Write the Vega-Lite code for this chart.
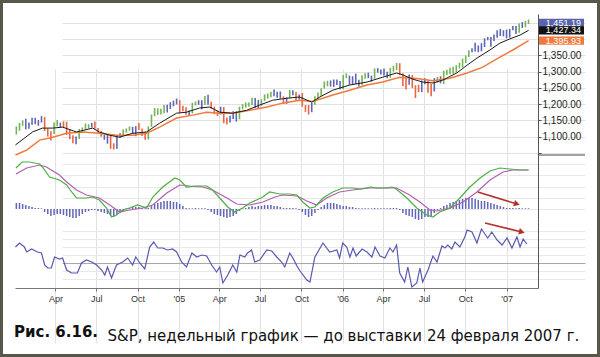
{
"$schema": "https://vega.github.io/schema/vega-lite/v6.json",
"width": 600, "height": 357,
"autosize": {"type": "none"},
"padding": 0,
"background": "white",
"config": {"view": {"stroke": "#58574a", "strokeWidth": 6, "fill": "white"}, "axis": {"labelFont": "Liberation Sans"}},
"title": {"text": "Рис. 6.16.", "orient": "bottom", "anchor": "start", "frame": "group", "offset": -20, "dx": 14, "baseline": "alphabetic", "font": "DejaVu Sans", "fontSize": 15, "fontWeight": "bold", "color": "#111111"},
"datasets": {
"bars": [
{"d":"2004-01-05","lo":1106,"hi":1131,"imp":"g","hist":6},
{"d":"2004-01-12","lo":1118,"hi":1142,"imp":"g","hist":6},
{"d":"2004-01-19","lo":1133,"hi":1150,"imp":"g","hist":5},
{"d":"2004-01-26","lo":1122,"hi":1155,"imp":"b","hist":4},
{"d":"2004-02-02","lo":1124,"hi":1143,"imp":"b","hist":3},
{"d":"2004-02-09","lo":1136,"hi":1158,"imp":"b","hist":2},
{"d":"2004-02-16","lo":1138,"hi":1158,"imp":"b","hist":1},
{"d":"2004-02-23","lo":1133,"hi":1151,"imp":"b","hist":1},
{"d":"2004-03-01","lo":1143,"hi":1163,"imp":"b","hist":0.7},
{"d":"2004-03-08","lo":1117,"hi":1160,"imp":"r","hist":-3},
{"d":"2004-03-15","lo":1100,"hi":1125,"imp":"r","hist":-5},
{"d":"2004-03-22","lo":1088,"hi":1116,"imp":"r","hist":-7},
{"d":"2004-03-29","lo":1108,"hi":1143,"imp":"g","hist":-6},
{"d":"2004-04-05","lo":1132,"hi":1151,"imp":"g","hist":-5},
{"d":"2004-04-12","lo":1128,"hi":1143,"imp":"b","hist":-5},
{"d":"2004-04-19","lo":1126,"hi":1147,"imp":"r","hist":-6},
{"d":"2004-04-26","lo":1105,"hi":1146,"imp":"r","hist":-7},
{"d":"2004-05-03","lo":1092,"hi":1123,"imp":"r","hist":-8},
{"d":"2004-05-10","lo":1079,"hi":1104,"imp":"r","hist":-9},
{"d":"2004-05-17","lo":1076,"hi":1100,"imp":"b","hist":-9},
{"d":"2004-05-24","lo":1092,"hi":1123,"imp":"g","hist":-7},
{"d":"2004-05-31","lo":1113,"hi":1128,"imp":"g","hist":-5},
{"d":"2004-06-07","lo":1122,"hi":1140,"imp":"g","hist":-3},
{"d":"2004-06-14","lo":1125,"hi":1138,"imp":"g","hist":-2},
{"d":"2004-06-21","lo":1128,"hi":1142,"imp":"b","hist":-1},
{"d":"2004-06-28","lo":1124,"hi":1146,"imp":"r","hist":-1},
{"d":"2004-07-05","lo":1111,"hi":1126,"imp":"r","hist":-2},
{"d":"2004-07-12","lo":1099,"hi":1116,"imp":"r","hist":-3},
{"d":"2004-07-19","lo":1090,"hi":1106,"imp":"b","hist":-4},
{"d":"2004-07-26","lo":1078,"hi":1106,"imp":"b","hist":-5},
{"d":"2004-08-02","lo":1062,"hi":1108,"imp":"r","hist":-7},
{"d":"2004-08-09","lo":1060,"hi":1079,"imp":"r","hist":-8},
{"d":"2004-08-16","lo":1062,"hi":1100,"imp":"b","hist":-6},
{"d":"2004-08-23","lo":1096,"hi":1110,"imp":"b","hist":-4},
{"d":"2004-08-30","lo":1104,"hi":1122,"imp":"g","hist":-2},
{"d":"2004-09-06","lo":1112,"hi":1125,"imp":"g","hist":0.7},
{"d":"2004-09-13","lo":1118,"hi":1131,"imp":"g","hist":1},
{"d":"2004-09-20","lo":1108,"hi":1130,"imp":"b","hist":2},
{"d":"2004-09-27","lo":1101,"hi":1132,"imp":"b","hist":2},
{"d":"2004-10-04","lo":1120,"hi":1142,"imp":"r","hist":2},
{"d":"2004-10-11","lo":1102,"hi":1125,"imp":"r","hist":1},
{"d":"2004-10-18","lo":1090,"hi":1115,"imp":"r","hist":0.7},
{"d":"2004-10-25","lo":1091,"hi":1131,"imp":"g","hist":1},
{"d":"2004-11-01","lo":1130,"hi":1168,"imp":"g","hist":3},
{"d":"2004-11-08","lo":1163,"hi":1188,"imp":"g","hist":5},
{"d":"2004-11-15","lo":1167,"hi":1187,"imp":"g","hist":6},
{"d":"2004-11-22","lo":1168,"hi":1186,"imp":"g","hist":7},
{"d":"2004-11-29","lo":1172,"hi":1197,"imp":"g","hist":8},
{"d":"2004-12-06","lo":1174,"hi":1198,"imp":"b","hist":8},
{"d":"2004-12-13","lo":1185,"hi":1206,"imp":"b","hist":8},
{"d":"2004-12-20","lo":1193,"hi":1211,"imp":"b","hist":7},
{"d":"2004-12-27","lo":1199,"hi":1217,"imp":"b","hist":7},
{"d":"2005-01-03","lo":1173,"hi":1212,"imp":"r","hist":5},
{"d":"2005-01-10","lo":1178,"hi":1195,"imp":"r","hist":3},
{"d":"2005-01-17","lo":1167,"hi":1190,"imp":"r","hist":1},
{"d":"2005-01-24","lo":1163,"hi":1180,"imp":"b","hist":0.7},
{"d":"2005-01-31","lo":1171,"hi":1204,"imp":"g","hist":0.7},
{"d":"2005-02-07","lo":1196,"hi":1208,"imp":"g","hist":1},
{"d":"2005-02-14","lo":1198,"hi":1212,"imp":"b","hist":0.7},
{"d":"2005-02-21","lo":1184,"hi":1212,"imp":"b","hist":0.7},
{"d":"2005-02-28","lo":1198,"hi":1225,"imp":"g","hist":0.7},
{"d":"2005-03-07","lo":1198,"hi":1229,"imp":"b","hist":-1},
{"d":"2005-03-14","lo":1186,"hi":1207,"imp":"r","hist":-3},
{"d":"2005-03-21","lo":1169,"hi":1192,"imp":"r","hist":-5},
{"d":"2005-03-28","lo":1163,"hi":1180,"imp":"r","hist":-6},
{"d":"2005-04-04","lo":1168,"hi":1192,"imp":"b","hist":-7},
{"d":"2005-04-11","lo":1141,"hi":1191,"imp":"r","hist":-8},
{"d":"2005-04-18","lo":1137,"hi":1159,"imp":"r","hist":-9},
{"d":"2005-04-25","lo":1143,"hi":1164,"imp":"b","hist":-8},
{"d":"2005-05-02","lo":1154,"hi":1178,"imp":"b","hist":-7},
{"d":"2005-05-09","lo":1146,"hi":1178,"imp":"b","hist":-5},
{"d":"2005-05-16","lo":1153,"hi":1192,"imp":"g","hist":-2},
{"d":"2005-05-23","lo":1184,"hi":1200,"imp":"g","hist":0.7},
{"d":"2005-05-30","lo":1189,"hi":1205,"imp":"g","hist":1},
{"d":"2005-06-06","lo":1192,"hi":1205,"imp":"g","hist":2},
{"d":"2005-06-13","lo":1197,"hi":1220,"imp":"g","hist":3},
{"d":"2005-06-20","lo":1189,"hi":1219,"imp":"b","hist":2},
{"d":"2005-06-27","lo":1188,"hi":1213,"imp":"b","hist":3},
{"d":"2005-07-04","lo":1195,"hi":1215,"imp":"g","hist":3},
{"d":"2005-07-11","lo":1210,"hi":1230,"imp":"g","hist":4},
{"d":"2005-07-18","lo":1217,"hi":1233,"imp":"g","hist":4},
{"d":"2005-07-25","lo":1221,"hi":1238,"imp":"g","hist":4},
{"d":"2005-08-01","lo":1224,"hi":1245,"imp":"b","hist":3},
{"d":"2005-08-08","lo":1220,"hi":1238,"imp":"b","hist":3},
{"d":"2005-08-15","lo":1217,"hi":1239,"imp":"b","hist":2},
{"d":"2005-08-22","lo":1201,"hi":1224,"imp":"r","hist":1},
{"d":"2005-08-29","lo":1201,"hi":1221,"imp":"b","hist":1},
{"d":"2005-09-05","lo":1218,"hi":1244,"imp":"g","hist":1},
{"d":"2005-09-12","lo":1227,"hi":1243,"imp":"b","hist":1},
{"d":"2005-09-19","lo":1210,"hi":1237,"imp":"r","hist":0.7},
{"d":"2005-09-26","lo":1214,"hi":1230,"imp":"b","hist":-1},
{"d":"2005-10-03","lo":1192,"hi":1234,"imp":"r","hist":-3},
{"d":"2005-10-10","lo":1176,"hi":1197,"imp":"r","hist":-6},
{"d":"2005-10-17","lo":1168,"hi":1197,"imp":"r","hist":-8},
{"d":"2005-10-24","lo":1175,"hi":1204,"imp":"b","hist":-7},
{"d":"2005-10-31","lo":1198,"hi":1224,"imp":"g","hist":-4},
{"d":"2005-11-07","lo":1215,"hi":1236,"imp":"g","hist":-1},
{"d":"2005-11-14","lo":1226,"hi":1249,"imp":"g","hist":2},
{"d":"2005-11-21","lo":1248,"hi":1270,"imp":"g","hist":4},
{"d":"2005-11-28","lo":1255,"hi":1272,"imp":"g","hist":6},
{"d":"2005-12-05","lo":1254,"hi":1273,"imp":"b","hist":6},
{"d":"2005-12-12","lo":1253,"hi":1276,"imp":"b","hist":6},
{"d":"2005-12-19","lo":1259,"hi":1276,"imp":"b","hist":5},
{"d":"2005-12-26","lo":1246,"hi":1271,"imp":"b","hist":4},
{"d":"2006-01-02","lo":1246,"hi":1290,"imp":"g","hist":3},
{"d":"2006-01-09","lo":1280,"hi":1295,"imp":"g","hist":3},
{"d":"2006-01-16","lo":1260,"hi":1288,"imp":"b","hist":2},
{"d":"2006-01-23","lo":1259,"hi":1286,"imp":"b","hist":2},
{"d":"2006-01-30","lo":1262,"hi":1294,"imp":"b","hist":1},
{"d":"2006-02-06","lo":1254,"hi":1275,"imp":"b","hist":0.7},
{"d":"2006-02-13","lo":1258,"hi":1289,"imp":"g","hist":0.7},
{"d":"2006-02-20","lo":1278,"hi":1295,"imp":"g","hist":0.7},
{"d":"2006-02-27","lo":1280,"hi":1297,"imp":"b","hist":0.7},
{"d":"2006-03-06","lo":1269,"hi":1288,"imp":"b","hist":0.7},
{"d":"2006-03-13","lo":1278,"hi":1310,"imp":"g","hist":1},
{"d":"2006-03-20","lo":1297,"hi":1311,"imp":"b","hist":0.7},
{"d":"2006-03-27","lo":1291,"hi":1307,"imp":"b","hist":0.7},
{"d":"2006-04-03","lo":1288,"hi":1310,"imp":"b","hist":0.7},
{"d":"2006-04-10","lo":1280,"hi":1300,"imp":"b","hist":0.7},
{"d":"2006-04-17","lo":1281,"hi":1312,"imp":"g","hist":1},
{"d":"2006-04-24","lo":1300,"hi":1318,"imp":"g","hist":1},
{"d":"2006-05-01","lo":1305,"hi":1327,"imp":"g","hist":1},
{"d":"2006-05-08","lo":1290,"hi":1326,"imp":"r","hist":-1},
{"d":"2006-05-15","lo":1256,"hi":1295,"imp":"r","hist":-4},
{"d":"2006-05-22","lo":1245,"hi":1285,"imp":"r","hist":-6},
{"d":"2006-05-29","lo":1260,"hi":1291,"imp":"b","hist":-7},
{"d":"2006-06-05","lo":1250,"hi":1290,"imp":"r","hist":-8},
{"d":"2006-06-12","lo":1219,"hi":1258,"imp":"r","hist":-10},
{"d":"2006-06-19","lo":1237,"hi":1260,"imp":"r","hist":-11},
{"d":"2006-06-26","lo":1237,"hi":1273,"imp":"b","hist":-10},
{"d":"2006-07-03","lo":1261,"hi":1280,"imp":"b","hist":-8},
{"d":"2006-07-10","lo":1235,"hi":1273,"imp":"r","hist":-8},
{"d":"2006-07-17","lo":1224,"hi":1262,"imp":"r","hist":-7},
{"d":"2006-07-24","lo":1239,"hi":1280,"imp":"b","hist":-4},
{"d":"2006-07-31","lo":1266,"hi":1284,"imp":"g","hist":-1},
{"d":"2006-08-07","lo":1264,"hi":1286,"imp":"b","hist":1},
{"d":"2006-08-14","lo":1262,"hi":1303,"imp":"g","hist":3},
{"d":"2006-08-21","lo":1290,"hi":1306,"imp":"g","hist":4},
{"d":"2006-08-28","lo":1292,"hi":1312,"imp":"g","hist":6},
{"d":"2006-09-04","lo":1294,"hi":1315,"imp":"g","hist":7},
{"d":"2006-09-11","lo":1297,"hi":1320,"imp":"g","hist":8},
{"d":"2006-09-18","lo":1310,"hi":1328,"imp":"g","hist":9},
{"d":"2006-09-25","lo":1313,"hi":1340,"imp":"g","hist":10},
{"d":"2006-10-02","lo":1327,"hi":1350,"imp":"g","hist":11},
{"d":"2006-10-09","lo":1345,"hi":1366,"imp":"g","hist":11},
{"d":"2006-10-16","lo":1360,"hi":1372,"imp":"b","hist":11},
{"d":"2006-10-23","lo":1362,"hi":1389,"imp":"b","hist":10},
{"d":"2006-10-30","lo":1360,"hi":1381,"imp":"b","hist":9},
{"d":"2006-11-06","lo":1363,"hi":1388,"imp":"b","hist":8},
{"d":"2006-11-13","lo":1376,"hi":1403,"imp":"b","hist":8},
{"d":"2006-11-20","lo":1397,"hi":1407,"imp":"b","hist":7},
{"d":"2006-11-27","lo":1377,"hi":1407,"imp":"b","hist":6},
{"d":"2006-12-04","lo":1395,"hi":1415,"imp":"b","hist":5},
{"d":"2006-12-11","lo":1405,"hi":1428,"imp":"b","hist":4},
{"d":"2006-12-18","lo":1410,"hi":1432,"imp":"b","hist":3},
{"d":"2006-12-25","lo":1409,"hi":1428,"imp":"b","hist":2},
{"d":"2007-01-01","lo":1403,"hi":1430,"imp":"b","hist":1},
{"d":"2007-01-08","lo":1405,"hi":1432,"imp":"b","hist":1},
{"d":"2007-01-15","lo":1428,"hi":1441,"imp":"b","hist":1},
{"d":"2007-01-22","lo":1416,"hi":1441,"imp":"b","hist":0.7},
{"d":"2007-01-29","lo":1420,"hi":1449,"imp":"g","hist":1},
{"d":"2007-02-05","lo":1435,"hi":1453,"imp":"b","hist":0.7},
{"d":"2007-02-12","lo":1437,"hi":1457,"imp":"g","hist":0.7},
{"d":"2007-02-19","lo":1447,"hi":1461,"imp":"g","hist":0.7}
],
"ema13": [
{"d":"2004-01-03","v":1074},{"d":"2004-02-10","v":1114},{"d":"2004-03-03","v":1126},{"d":"2004-03-26","v":1126},{"d":"2004-04-17","v":1129},{"d":"2004-05-18","v":1114},{"d":"2004-06-23","v":1126},{"d":"2004-07-08","v":1114},{"d":"2004-07-31","v":1104},{"d":"2004-08-22","v":1098},{"d":"2004-09-20","v":1110},{"d":"2004-10-21","v":1114},{"d":"2004-11-19","v":1141},{"d":"2004-12-27","v":1172},{"d":"2005-01-18","v":1175},{"d":"2005-02-16","v":1188},{"d":"2005-03-11","v":1191},{"d":"2005-04-02","v":1175},{"d":"2005-05-01","v":1172},{"d":"2005-06-01","v":1181},{"d":"2005-06-30","v":1197},{"d":"2005-07-29","v":1212},{"d":"2005-08-29","v":1218},{"d":"2005-09-27","v":1222},{"d":"2005-10-24","v":1206},{"d":"2005-11-11","v":1222},{"d":"2005-12-10","v":1243},{"d":"2006-01-17","v":1259},{"d":"2006-02-24","v":1268},{"d":"2006-03-31","v":1283},{"d":"2006-05-01","v":1296},{"d":"2006-05-15","v":1290},{"d":"2006-06-06","v":1277},{"d":"2006-06-28","v":1268},{"d":"2006-07-21","v":1265},{"d":"2006-08-12","v":1274},{"d":"2006-09-12","v":1296},{"d":"2006-10-05","v":1320},{"d":"2006-10-27","v":1342},{"d":"2006-11-25","v":1367},{"d":"2006-12-17","v":1388},{"d":"2007-01-08","v":1401},{"d":"2007-01-31","v":1413},{"d":"2007-02-19","v":1427.34}
],
"ema26": [
{"d":"2004-01-03","v":1043},{"d":"2004-01-28","v":1058},{"d":"2004-02-26","v":1089},{"d":"2004-03-26","v":1098},{"d":"2004-04-26","v":1110},{"d":"2004-06-01","v":1114},{"d":"2004-07-08","v":1110},{"d":"2004-08-15","v":1104},{"d":"2004-09-20","v":1104},{"d":"2004-10-21","v":1110},{"d":"2004-11-19","v":1129},{"d":"2004-12-27","v":1157},{"d":"2005-02-01","v":1166},{"d":"2005-03-04","v":1175},{"d":"2005-04-02","v":1172},{"d":"2005-05-01","v":1172},{"d":"2005-06-08","v":1181},{"d":"2005-07-16","v":1191},{"d":"2005-08-20","v":1203},{"d":"2005-09-27","v":1212},{"d":"2005-10-26","v":1208},{"d":"2005-12-10","v":1228},{"d":"2006-01-17","v":1243},{"d":"2006-02-24","v":1259},{"d":"2006-03-31","v":1268},{"d":"2006-05-08","v":1283},{"d":"2006-06-15","v":1279},{"d":"2006-07-21","v":1272},{"d":"2006-08-28","v":1280},{"d":"2006-10-05","v":1296},{"d":"2006-11-09","v":1314},{"d":"2006-12-17","v":1345},{"d":"2007-01-15","v":1367},{"d":"2007-02-19","v":1395.93}
],
"macd": [
{"d":"2004-01-04","v":41},{"d":"2004-01-18","v":47},{"d":"2004-02-03","v":47},{"d":"2004-02-26","v":45},{"d":"2004-03-03","v":42},{"d":"2004-03-19","v":32},{"d":"2004-04-10","v":29},{"d":"2004-04-26","v":24},{"d":"2004-05-09","v":16},{"d":"2004-05-18","v":11},{"d":"2004-06-09","v":11},{"d":"2004-06-23","v":12},{"d":"2004-07-08","v":9},{"d":"2004-07-24","v":1},{"d":"2004-08-04","v":-8},{"d":"2004-08-15","v":-6},{"d":"2004-08-29","v":-1},{"d":"2004-09-13","v":1},{"d":"2004-10-01","v":4},{"d":"2004-10-21","v":1},{"d":"2004-11-04","v":12},{"d":"2004-11-26","v":22},{"d":"2004-12-23","v":31},{"d":"2005-01-03","v":29},{"d":"2005-01-18","v":22},{"d":"2005-02-10","v":23},{"d":"2005-03-04","v":23},{"d":"2005-03-17","v":19},{"d":"2005-04-02","v":11},{"d":"2005-04-20","v":2},{"d":"2005-05-05","v":-3},{"d":"2005-05-23","v":1},{"d":"2005-06-08","v":6},{"d":"2005-06-23","v":9},{"d":"2005-07-07","v":12},{"d":"2005-07-22","v":17},{"d":"2005-08-14","v":15},{"d":"2005-09-05","v":15},{"d":"2005-09-21","v":14},{"d":"2005-10-04","v":7},{"d":"2005-10-20","v":1},{"d":"2005-10-31","v":2},{"d":"2005-11-18","v":11},{"d":"2005-12-10","v":17},{"d":"2006-01-01","v":21},{"d":"2006-01-23","v":21},{"d":"2006-02-10","v":20},{"d":"2006-03-05","v":22},{"d":"2006-03-18","v":21},{"d":"2006-04-09","v":21},{"d":"2006-04-20","v":22},{"d":"2006-04-27","v":21},{"d":"2006-05-08","v":17},{"d":"2006-05-24","v":11},{"d":"2006-06-15","v":1},{"d":"2006-07-07","v":-6},{"d":"2006-07-21","v":-8},{"d":"2006-08-05","v":-3},{"d":"2006-08-28","v":1},{"d":"2006-09-19","v":11},{"d":"2006-10-11","v":22},{"d":"2006-11-03","v":31},{"d":"2006-11-25","v":38},{"d":"2006-12-17","v":41},{"d":"2007-01-08","v":40},{"d":"2007-01-31","v":39},{"d":"2007-02-19","v":39}
],
"signal": [
{"d":"2004-01-04","v":35},{"d":"2004-01-28","v":41},{"d":"2004-02-26","v":44},{"d":"2004-03-12","v":42},{"d":"2004-04-10","v":34},{"d":"2004-04-26","v":27},{"d":"2004-05-18","v":19},{"d":"2004-06-09","v":14},{"d":"2004-07-08","v":11},{"d":"2004-07-31","v":4},{"d":"2004-08-22","v":-3},{"d":"2004-09-13","v":-1},{"d":"2004-10-12","v":1},{"d":"2004-11-04","v":4},{"d":"2004-12-05","v":16},{"d":"2005-01-03","v":24},{"d":"2005-01-25","v":23},{"d":"2005-02-23","v":22},{"d":"2005-03-17","v":19},{"d":"2005-04-18","v":11},{"d":"2005-05-10","v":5},{"d":"2005-06-08","v":4},{"d":"2005-07-07","v":7},{"d":"2005-08-03","v":12},{"d":"2005-08-20","v":14},{"d":"2005-09-21","v":13},{"d":"2005-10-13","v":8},{"d":"2005-11-04","v":4},{"d":"2005-11-26","v":11},{"d":"2005-12-25","v":17},{"d":"2006-01-23","v":19},{"d":"2006-03-02","v":21},{"d":"2006-04-09","v":21},{"d":"2006-05-01","v":21},{"d":"2006-05-30","v":14},{"d":"2006-06-22","v":7},{"d":"2006-07-14","v":-1},{"d":"2006-07-30","v":-2},{"d":"2006-08-28","v":1},{"d":"2006-09-26","v":7},{"d":"2006-10-27","v":17},{"d":"2006-11-25","v":29},{"d":"2006-12-24","v":37},{"d":"2007-01-15","v":39},{"d":"2007-02-19","v":39}
],
"force": [
{"d":"2004-01-03","v":16},{"d":"2004-01-12","v":20},{"d":"2004-01-23","v":16},{"d":"2004-01-28","v":11},{"d":"2004-02-08","v":14},{"d":"2004-02-21","v":11},{"d":"2004-03-01","v":10},{"d":"2004-03-08","v":-2},{"d":"2004-03-15","v":-5},{"d":"2004-03-23","v":-5},{"d":"2004-03-30","v":6},{"d":"2004-04-10","v":4},{"d":"2004-04-17","v":5},{"d":"2004-04-26","v":-7},{"d":"2004-05-07","v":-10},{"d":"2004-05-20","v":-10},{"d":"2004-05-29","v":0},{"d":"2004-06-09","v":3},{"d":"2004-06-21","v":1},{"d":"2004-07-02","v":-2},{"d":"2004-07-13","v":-7},{"d":"2004-07-20","v":-12},{"d":"2004-07-26","v":-4},{"d":"2004-08-04","v":-15},{"d":"2004-08-15","v":-2},{"d":"2004-08-29","v":1},{"d":"2004-09-09","v":5},{"d":"2004-09-20","v":-2},{"d":"2004-09-27","v":6},{"d":"2004-10-06","v":0},{"d":"2004-10-17","v":-6},{"d":"2004-10-28","v":16},{"d":"2004-11-06","v":21},{"d":"2004-11-15","v":15},{"d":"2004-11-26","v":15},{"d":"2004-12-07","v":13},{"d":"2004-12-18","v":14},{"d":"2004-12-27","v":11},
{"d":"2005-01-07","v":1},{"d":"2005-01-18","v":-4},{"d":"2005-01-30","v":10},{"d":"2005-02-10","v":6},{"d":"2005-02-21","v":8},{"d":"2005-03-04","v":7},{"d":"2005-03-15","v":-2},{"d":"2005-03-26","v":-9},{"d":"2005-04-02","v":-4},{"d":"2005-04-09","v":-20},{"d":"2005-04-20","v":-12},{"d":"2005-05-01","v":-2},{"d":"2005-05-10","v":-9},{"d":"2005-05-17","v":8},{"d":"2005-05-28","v":6},{"d":"2005-06-03","v":10},{"d":"2005-06-12","v":13},{"d":"2005-06-19","v":1},{"d":"2005-06-30","v":3},{"d":"2005-07-16","v":13},{"d":"2005-07-27","v":12},{"d":"2005-08-07","v":6},{"d":"2005-08-18","v":1},{"d":"2005-08-25","v":-4},{"d":"2005-09-05","v":10},{"d":"2005-09-12","v":5},{"d":"2005-09-21","v":-3},{"d":"2005-09-28","v":-8},{"d":"2005-10-13","v":-17},{"d":"2005-10-20","v":-19},{"d":"2005-10-31","v":6},{"d":"2005-11-18","v":20},{"d":"2005-12-03","v":11},{"d":"2005-12-19","v":13},{"d":"2005-12-25","v":5},
{"d":"2006-01-01","v":20},{"d":"2006-01-10","v":16},{"d":"2006-01-17","v":6},{"d":"2006-01-24","v":15},{"d":"2006-01-31","v":7},{"d":"2006-02-13","v":14},{"d":"2006-02-24","v":11},{"d":"2006-03-07","v":6},{"d":"2006-03-14","v":16},{"d":"2006-03-25","v":7},{"d":"2006-04-05","v":5},{"d":"2006-04-16","v":15},{"d":"2006-04-23","v":11},{"d":"2006-05-01","v":18},{"d":"2006-05-08","v":-10},{"d":"2006-05-19","v":-19},{"d":"2006-05-26","v":-4},{"d":"2006-06-04","v":-24},{"d":"2006-06-15","v":-20},{"d":"2006-06-22","v":-5},{"d":"2006-06-28","v":-19},{"d":"2006-07-10","v":-7},{"d":"2006-07-21","v":7},{"d":"2006-07-30","v":1},{"d":"2006-08-10","v":17},{"d":"2006-08-17","v":15},{"d":"2006-08-23","v":18},{"d":"2006-09-01","v":14},{"d":"2006-09-08","v":21},{"d":"2006-09-19","v":16},{"d":"2006-09-30","v":26},{"d":"2006-10-05","v":33},{"d":"2006-10-16","v":31},{"d":"2006-10-27","v":20},{"d":"2006-11-06","v":34},{"d":"2006-11-20","v":25},{"d":"2006-11-29","v":31},{"d":"2006-12-11","v":23},{"d":"2006-12-22","v":18},
{"d":"2007-01-02","v":25},{"d":"2007-01-13","v":15},{"d":"2007-01-24","v":26},{"d":"2007-01-31","v":16},{"d":"2007-02-07","v":24},{"d":"2007-02-15","v":19}
],
"arrows": [
{"panel":"macd","d1":"2006-10-29","v1":17,"d2":"2007-01-24","v2":5},
{"panel":"force","d1":"2006-11-14","v1":40,"d2":"2007-02-04","v2":31}
],
"boxes": [
{"label":"1,451.19","v":1451.19,"kind":"close"},
{"label":"1,427.34","v":1427.34,"kind":"fast"},
{"label":"1,395.93","v":1395.93,"kind":"slow"}
]
},
"layer": [
{"data": {"name": "bars"}, "mark": {"type": "rule", "strokeWidth": 1.6},
 "encoding": {
  "x": {"field": "d", "type": "temporal", "title": null, "scale": {"domain": [{"year":2004,"month":1,"date":2},{"year":2007,"month":3,"date":12}], "range": [15, 538]}, "axis": {"orient": "bottom", "grid": true, "gridColor": "#e2e2e2", "domain": false, "ticks": false, "labels": false, "title": null, "tickCount": {"interval": "month", "step": 3}}},
  "y": {"field": "lo", "type": "quantitative", "title": null, "scale": {"domain": [1043, 1478], "range": [155, 14], "zero": false, "nice": false}, "axis": {"orient": "right", "offset": -62, "title": null, "values": [1050,1100,1150,1200,1250,1300,1350,1400,1450], "labelExpr": "datum.value >= 1100 && datum.value <= 1350 ? format(datum.value, ',.2f') : ''", "grid": true, "gridColor": "#e2e2e2", "domainColor": "#555555", "tickColor": "#555555", "tickSize": 3, "labelFontSize": 10, "labelColor": "#222222", "labelPadding": 1}},
  "y2": {"field": "hi"},
  "color": {"field": "imp", "type": "nominal", "scale": {"domain": ["g","b","r"], "range": ["#72b456","#5f66b6","#ea6540"]}, "legend": null}
 }},
{"data": {"name": "ema26"}, "mark": {"type": "line", "color": "#f07a3c", "strokeWidth": 1.5},
 "encoding": {"x": {"field": "d", "type": "temporal", "title": null, "axis": null, "scale": {"domain": [{"year":2004,"month":1,"date":2},{"year":2007,"month":3,"date":12}], "range": [15, 538]}}, "y": {"field": "v", "type": "quantitative", "title": null, "axis": null, "scale": {"domain": [1043, 1478], "range": [155, 14], "zero": false, "nice": false}}}},
{"data": {"name": "ema13"}, "mark": {"type": "line", "color": "#1a1a1a", "strokeWidth": 1},
 "encoding": {"x": {"field": "d", "type": "temporal", "title": null, "axis": null, "scale": {"domain": [{"year":2004,"month":1,"date":2},{"year":2007,"month":3,"date":12}], "range": [15, 538]}}, "y": {"field": "v", "type": "quantitative", "title": null, "axis": null, "scale": {"domain": [1043, 1478], "range": [155, 14], "zero": false, "nice": false}}}},
{"data": {"name": "bars"}, "mark": {"type": "rule", "strokeWidth": 1.5, "color": "#6266b8"},
 "encoding": {
  "x": {"field": "d", "type": "temporal", "title": null, "scale": {"domain": [{"year":2004,"month":1,"date":2},{"year":2007,"month":3,"date":12}], "range": [15, 538]}, "axis": {"orient": "bottom", "grid": true, "gridColor": "#e2e2e2", "domain": false, "ticks": false, "labels": false, "title": null, "tickCount": {"interval": "month", "step": 3}}},
  "y": {"field": "hist", "type": "quantitative", "title": null, "scale": {"domain": [-13, 54], "range": [222, 155], "zero": false, "nice": false}, "axis": {"orient": "right", "offset": -62, "title": null, "values": [0, 11, 22, 34, 45], "grid": true, "gridColor": "#e8e8e8", "labels": false, "ticks": false, "domainColor": "#555555"}},
  "y2": {"datum": 0}
 }},
{"data": {"name": "signal"}, "mark": {"type": "line", "color": "#b35cb3", "strokeWidth": 1.2},
 "encoding": {"x": {"field": "d", "type": "temporal", "title": null, "axis": null, "scale": {"domain": [{"year":2004,"month":1,"date":2},{"year":2007,"month":3,"date":12}], "range": [15, 538]}}, "y": {"field": "v", "type": "quantitative", "title": null, "axis": null, "scale": {"domain": [-13, 54], "range": [222, 155], "zero": false, "nice": false}}}},
{"data": {"name": "macd"}, "mark": {"type": "line", "color": "#4fae45", "strokeWidth": 1.2},
 "encoding": {"x": {"field": "d", "type": "temporal", "title": null, "axis": null, "scale": {"domain": [{"year":2004,"month":1,"date":2},{"year":2007,"month":3,"date":12}], "range": [15, 538]}}, "y": {"field": "v", "type": "quantitative", "title": null, "axis": null, "scale": {"domain": [-13, 54], "range": [222, 155], "zero": false, "nice": false}}}},
{"data": {"name": "arrows"}, "transform": [{"filter": "datum.panel === 'macd'"}], "mark": {"type": "rule", "color": "#b3312b", "strokeWidth": 1.5},
 "encoding": {"x": {"field": "d1", "type": "temporal", "title": null, "axis": null, "scale": {"domain": [{"year":2004,"month":1,"date":2},{"year":2007,"month":3,"date":12}], "range": [15, 538]}}, "x2": {"field": "d2"}, "y": {"field": "v1", "type": "quantitative", "title": null, "axis": null, "scale": {"domain": [-13, 54], "range": [222, 155], "zero": false, "nice": false}}, "y2": {"field": "v2"}}},
{"data": {"name": "arrows"}, "transform": [{"filter": "datum.panel === 'macd'"}], "mark": {"type": "point", "shape": "triangle-right", "filled": true, "size": 45, "color": "#b3312b", "opacity": 1, "angle": 17},
 "encoding": {"x": {"field": "d2", "type": "temporal", "title": null, "axis": null, "scale": {"domain": [{"year":2004,"month":1,"date":2},{"year":2007,"month":3,"date":12}], "range": [15, 538]}}, "y": {"field": "v2", "type": "quantitative", "title": null, "axis": null, "scale": {"domain": [-13, 54], "range": [222, 155], "zero": false, "nice": false}}}},
{"data": {"name": "force"}, "mark": {"type": "line", "color": "#5858b0", "strokeWidth": 1.2},
 "encoding": {
  "x": {"field": "d", "type": "temporal", "scale": {"domain": [{"year":2004,"month":1,"date":2},{"year":2007,"month":3,"date":12}], "range": [15, 538]}, "axis": {"orient": "bottom", "offset": -69, "grid": true, "gridColor": "#e2e2e2", "tickCount": {"interval": "month", "step": 3}, "labelExpr": "month(datum.value) === 0 ? \"'\" + timeFormat(datum.value, '%y') : timeFormat(datum.value, '%b')", "labelFontSize": 9, "labelColor": "#333333", "labelPadding": 3, "domainColor": "#777777", "tickColor": "#777777", "tickSize": 3, "title": "S&P, недельный график — до выставки 24 февраля 2007 г.", "titleFont": "DejaVu Sans", "titleFontSize": 15, "titleFontWeight": "normal", "titleColor": "#111111", "titleX": 107, "titleY": 52, "titleAlign": "left", "titleAnchor": "start", "titleBaseline": "alphabetic"}},
  "y": {"field": "v", "type": "quantitative", "title": null, "scale": {"domain": [-25, 41], "range": [288, 222], "zero": false, "nice": false}, "axis": {"orient": "right", "offset": -62, "title": null, "values": [-16, -8, 0, 8, 16, 24, 32], "grid": true, "gridColor": {"condition": {"test": "datum.value === 0", "value": "#a8a8a8"}, "value": "#e8e8e8"}, "labels": false, "ticks": false, "domainColor": "#555555"}}
 }},
{"data": {"name": "arrows"}, "transform": [{"filter": "datum.panel === 'force'"}], "mark": {"type": "rule", "color": "#b3312b", "strokeWidth": 1.5},
 "encoding": {"x": {"field": "d1", "type": "temporal", "title": null, "axis": null, "scale": {"domain": [{"year":2004,"month":1,"date":2},{"year":2007,"month":3,"date":12}], "range": [15, 538]}}, "x2": {"field": "d2"}, "y": {"field": "v1", "type": "quantitative", "title": null, "axis": null, "scale": {"domain": [-25, 41], "range": [288, 222], "zero": false, "nice": false}}, "y2": {"field": "v2"}}},
{"data": {"name": "arrows"}, "transform": [{"filter": "datum.panel === 'force'"}], "mark": {"type": "point", "shape": "triangle-right", "filled": true, "size": 45, "color": "#b3312b", "opacity": 1, "angle": 14},
 "encoding": {"x": {"field": "d2", "type": "temporal", "title": null, "axis": null, "scale": {"domain": [{"year":2004,"month":1,"date":2},{"year":2007,"month":3,"date":12}], "range": [15, 538]}}, "y": {"field": "v2", "type": "quantitative", "title": null, "axis": null, "scale": {"domain": [-25, 41], "range": [288, 222], "zero": false, "nice": false}}}},
{"data": {"name": "boxes"}, "mark": {"type": "point", "shape": "M-1,-0.18H1V0.18H-1Z", "size": 2025, "filled": true, "opacity": 1, "strokeWidth": 0},
 "encoding": {
  "x": {"datum": 0.5, "type": "quantitative", "scale": {"domain": [0, 1], "range": [538, 585]}, "axis": null},
  "y": {"field": "v", "type": "quantitative", "scale": {"domain": [1043, 1478], "range": [155, 14], "zero": false, "nice": false}, "axis": null},
  "color": {"field": "kind", "type": "nominal", "scale": {"domain": ["close","fast","slow"], "range": ["#5a63ad","#111111","#f07a3c"]}, "legend": null}
 }},
{"data": {"name": "boxes"}, "mark": {"type": "text", "font": "Liberation Sans", "fontSize": 9, "color": "white", "align": "center", "baseline": "middle"},
 "encoding": {"x": {"datum": 0.54, "type": "quantitative", "axis": null, "scale": {"domain": [0, 1], "range": [538, 585]}}, "y": {"field": "v", "type": "quantitative", "axis": null, "scale": {"domain": [1043, 1478], "range": [155, 14], "zero": false, "nice": false}}, "text": {"field": "label"}}},
{"data": {"values": [{}]}, "mark": {"type": "rule", "color": "#444444", "strokeWidth": 1},
 "encoding": {"x": {"datum": 0, "type": "quantitative", "axis": null, "scale": {"domain": [0, 1], "range": [538, 585]}}, "x2": {"datum": 1}, "y": {"datum": 1043, "type": "quantitative", "axis": null, "scale": {"domain": [1043, 1478], "range": [155, 14], "zero": false, "nice": false}}}}
],
"resolve": {"scale": {"x": "independent", "y": "independent", "color": "independent"}, "axis": {"x": "independent", "y": "independent"}}
}
